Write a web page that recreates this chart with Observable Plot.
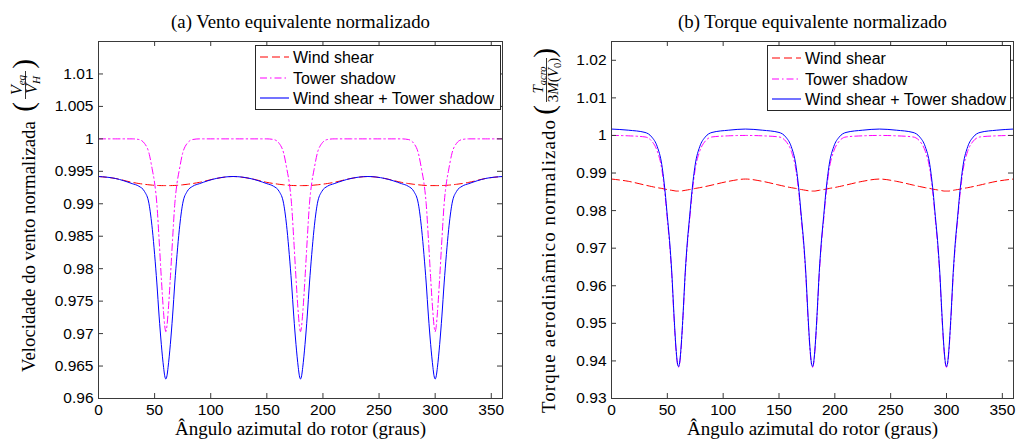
<!DOCTYPE html>
<html><head><meta charset="utf-8">
<script src="https://cdn.jsdelivr.net/npm/d3@7"></script>
<script src="https://cdn.jsdelivr.net/npm/@observablehq/plot@0.6"></script>
<style>
body{margin:0;background:#fff;}
#wrap{display:flex;width:1016px;height:443px;overflow:hidden;}
</style></head><body><div id="wrap"></div>
<script>
// ---------- data ----------
const angles = [0,15,
  30,36,41,45,48,50,52,54,56,58,59,60,61,62,64,66,68,70,72,75,79,84,90,
  105,120,135,
  150,156,161,165,168,170,172,174,176,178,179,180,181,182,184,186,188,190,192,195,199,204,210,
  225,240,255,
  270,276,281,285,288,290,292,294,296,298,299,300,301,302,304,306,308,310,312,315,319,324,330,
  345,360];

// (a) normalised equivalent wind
const windShearA = [0.99420,0.99390,
  0.99330,0.99312,0.99300,0.99292,0.99287,0.99284,0.99282,0.99281,0.99280,0.99280,0.99280,0.99280,0.99280,0.99280,0.99280,0.99281,0.99282,0.99284,0.99287,0.99292,0.99300,0.99312,0.99330,
  0.99390,0.99420,0.99390,
  0.99330,0.99312,0.99300,0.99292,0.99287,0.99284,0.99282,0.99281,0.99280,0.99280,0.99280,0.99280,0.99280,0.99280,0.99280,0.99281,0.99282,0.99284,0.99287,0.99292,0.99300,0.99312,0.99330,
  0.99390,0.99420,0.99390,
  0.99330,0.99312,0.99300,0.99292,0.99287,0.99284,0.99282,0.99281,0.99280,0.99280,0.99280,0.99280,0.99280,0.99280,0.99280,0.99281,0.99282,0.99284,0.99287,0.99292,0.99300,0.99312,0.99330,
  0.99390,0.99420];
const towerShadowA = [1.0000,1.0000,
  1.0000,0.9999,0.9993,0.9978,0.9952,0.9932,0.9900,0.9845,0.9785,0.9732,0.9712,0.9703,0.9712,0.9732,0.9785,0.9845,0.9900,0.9932,0.9952,0.9978,0.9993,0.9999,1.0000,
  1.0000,1.0000,1.0000,
  1.0000,0.9999,0.9993,0.9978,0.9952,0.9932,0.9900,0.9845,0.9785,0.9732,0.9712,0.9703,0.9712,0.9732,0.9785,0.9845,0.9900,0.9932,0.9952,0.9978,0.9993,0.9999,1.0000,
  1.0000,1.0000,1.0000,
  1.0000,0.9999,0.9993,0.9978,0.9952,0.9932,0.9900,0.9845,0.9785,0.9732,0.9712,0.9703,0.9712,0.9732,0.9785,0.9845,0.9900,0.9932,0.9952,0.9978,0.9993,0.9999,1.0000,
  1.0000,1.0000];
const combinedA = [0.9942,0.9939,
  0.9931,0.9927,0.9919,0.9900,0.9860,0.9822,0.9778,0.9727,0.9683,0.9648,0.9635,0.9630,0.9635,0.9648,0.9683,0.9727,0.9778,0.9822,0.9860,0.9900,0.9919,0.9927,0.9931,
  0.9939,0.9942,0.9939,
  0.9931,0.9927,0.9919,0.9900,0.9860,0.9822,0.9778,0.9727,0.9683,0.9648,0.9635,0.9630,0.9635,0.9648,0.9683,0.9727,0.9778,0.9822,0.9860,0.9900,0.9919,0.9927,0.9931,
  0.9939,0.9942,0.9939,
  0.9931,0.9927,0.9919,0.9900,0.9860,0.9822,0.9778,0.9727,0.9683,0.9648,0.9635,0.9630,0.9635,0.9648,0.9683,0.9727,0.9778,0.9822,0.9860,0.9900,0.9919,0.9927,0.9931,
  0.9939,0.9942];

// (b) normalised equivalent torque
const windShearB = [0.9884,0.9878,
  0.9868,0.9864,0.9861,0.9859,0.9857,0.9856,0.9855,0.9854,0.9853,0.9852,0.9852,0.9852,0.9852,0.9852,0.9853,0.9854,0.9855,0.9856,0.9857,0.9859,0.9861,0.9864,0.9868,
  0.9878,0.9884,0.9878,
  0.9868,0.9864,0.9861,0.9859,0.9857,0.9856,0.9855,0.9854,0.9853,0.9852,0.9852,0.9852,0.9852,0.9852,0.9853,0.9854,0.9855,0.9856,0.9857,0.9859,0.9861,0.9864,0.9868,
  0.9878,0.9884,0.9878,
  0.9868,0.9864,0.9861,0.9859,0.9857,0.9856,0.9855,0.9854,0.9853,0.9852,0.9852,0.9852,0.9852,0.9852,0.9853,0.9854,0.9855,0.9856,0.9857,0.9859,0.9861,0.9864,0.9868,
  0.9878,0.9884];
const towerShadowB = [1.0000,0.9999,
  0.9996,0.9985,0.9958,0.9911,0.9840,0.9776,0.9712,0.9627,0.9513,0.9420,0.9392,0.9383,0.9392,0.9420,0.9513,0.9627,0.9712,0.9776,0.9840,0.9911,0.9958,0.9985,0.9996,
  0.9999,1.0000,0.9999,
  0.9996,0.9985,0.9958,0.9911,0.9840,0.9776,0.9712,0.9627,0.9513,0.9420,0.9392,0.9383,0.9392,0.9420,0.9513,0.9627,0.9712,0.9776,0.9840,0.9911,0.9958,0.9985,0.9996,
  0.9999,1.0000,0.9999,
  0.9996,0.9985,0.9958,0.9911,0.9840,0.9776,0.9712,0.9627,0.9513,0.9420,0.9392,0.9383,0.9392,0.9420,0.9513,0.9627,0.9712,0.9776,0.9840,0.9911,0.9958,0.9985,0.9996,
  0.9999,1.0000];
const combinedB = [1.0017,1.0014,
  1.0008,0.9996,0.9970,0.9923,0.9850,0.9785,0.9720,0.9635,0.9520,0.9425,0.9395,0.9385,0.9395,0.9425,0.9520,0.9635,0.9720,0.9785,0.9850,0.9923,0.9970,0.9996,1.0008,
  1.0014,1.0017,1.0014,
  1.0008,0.9996,0.9970,0.9923,0.9850,0.9785,0.9720,0.9635,0.9520,0.9425,0.9395,0.9385,0.9395,0.9425,0.9520,0.9635,0.9720,0.9785,0.9850,0.9923,0.9970,0.9996,1.0008,
  1.0014,1.0017,1.0014,
  1.0008,0.9996,0.9970,0.9923,0.9850,0.9785,0.9720,0.9635,0.9520,0.9425,0.9395,0.9385,0.9395,0.9425,0.9520,0.9635,0.9720,0.9785,0.9850,0.9923,0.9970,0.9996,1.0008,
  1.0014,1.0017];

const seriesNames = ["Wind shear", "Tower shadow", "Wind shear + Tower shadow"];
const xTicks = [0, 50, 100, 150, 200, 250, 300, 350];
const xTickLabels = ["0", "50", "100", "150", "200", "250", "300", "350"];
const yTicksA = [0.96, 0.965, 0.97, 0.975, 0.98, 0.985, 0.99, 0.995, 1, 1.005, 1.01];
const yTickLabelsA = ["0.96", "0.965", "0.97", "0.975", "0.98", "0.985", "0.99", "0.995", "1", "1.005", "1.01"];
const yTicksB = [0.93, 0.94, 0.95, 0.96, 0.97, 0.98, 0.99, 1, 1.01, 1.02];
const yTickLabelsB = ["0.93", "0.94", "0.95", "0.96", "0.97", "0.98", "0.99", "1", "1.01", "1.02"];
const titleA = "(a) Vento equivalente normalizado";
const titleB = "(b) Torque equivalente normalizado";
const xLabel = "Ângulo azimutal do rotor (graus)";
const yLabelA = "Velocidade do vento normalizada";
const yLabelB = "Torque aerodinâmico normalizado";

// ---------- styling ----------
const colors = ["#ff0000", "#ff00ff", "#0000ff"];
const dashes = ["8,4", "7,3,1.5,3", null];
const axisColor = "#3a3a3a";
const serif = "Liberation Serif";
const sans = "Liberation Sans";
const H = 443, MT = 41, MB = 45;

function panel({series, yDomain, yTicks, yTickLabels, title, width, ml, mr}) {
  const ph = H - MT - MB, pw = width - ml - mr;
  const rows = [];
  series.forEach((arr, s) => arr.forEach((v, i) => rows.push({angle: angles[i], value: v, s})));
  const lines = [0, 1, 2].map(s => Plot.line(rows.filter(r => r.s === s), {
    x: "angle", y: "value", stroke: colors[s], strokeWidth: 1,
    strokeDasharray: dashes[s] ?? undefined, curve: "monotone-x", clip: true
  }));
  return Plot.plot({
    width, height: H, marginLeft: ml, marginRight: mr, marginTop: MT, marginBottom: MB,
    x: {domain: [0, 360]},
    y: {domain: yDomain},
    style: {fontFamily: sans, fontSize: "15.5px", color: "black", background: "white", overflow: "visible"},
    marks: [
      ...lines,
      Plot.frame({stroke: axisColor}),
      Plot.tickX(xTicks, {x: d => d, insetTop: ph - 5, stroke: axisColor}),
      Plot.tickX(xTicks, {x: d => d, insetBottom: ph - 5, stroke: axisColor}),
      Plot.tickY(yTicks, {y: d => d, insetRight: pw - 5, stroke: axisColor}),
      Plot.tickY(yTicks, {y: d => d, insetLeft: pw - 5, stroke: axisColor}),
      Plot.axisX(xTicks, {tickSize: 0, tickPadding: 5, label: null, tickFormat: d => xTickLabels[xTicks.indexOf(d)]}),
      Plot.axisY(yTicks, {tickSize: 0, tickPadding: 5, label: null, tickFormat: d => yTickLabels[yTicks.indexOf(d)]}),
      Plot.text([title], {text: d => d, frameAnchor: "top", dy: -14, lineAnchor: "bottom", fontFamily: serif, fontSize: 18.8, fill: "black"}),
      Plot.text([xLabel], {text: d => d, frameAnchor: "bottom", dy: 36, lineAnchor: "bottom", fontFamily: serif, fontSize: 19, fill: "black"})
    ]
  });
}

function legend(svg, box) {
  const g = d3.select(svg).append("g");
  g.append("rect").attr("x", box.x).attr("y", box.y).attr("width", box.w).attr("height", box.h)
    .attr("fill", "white").attr("stroke", "#262626").attr("stroke-width", 1);
  seriesNames.forEach((name, i) => {
    const y = box.rows[i];
    g.append("line").attr("x1", box.lx1).attr("x2", box.lx2).attr("y1", y).attr("y2", y)
      .attr("stroke", colors[i]).attr("stroke-width", 1.1).attr("stroke-dasharray", dashes[i]);
    g.append("text").attr("x", box.tx).attr("y", y + 5.5)
      .style("font-family", sans).style("font-size", "16px").style("text-anchor", "start")
      .attr("fill", "black").text(name);
  });
}

const wrap = document.getElementById("wrap");
const svgA = panel({series: [windShearA, towerShadowA, combinedA], yDomain: [0.96, 1.015], yTicks: yTicksA, yTickLabels: yTickLabelsA, title: titleA, width: 508, ml: 98, mr: 6});
const svgB = panel({series: [windShearB, towerShadowB, combinedB], yDomain: [0.93, 1.025], yTicks: yTicksB, yTickLabels: yTickLabelsB, title: titleB, width: 508, ml: 103, mr: 3});
wrap.appendChild(svgA);
wrap.appendChild(svgB);

legend(svgA, {x: 255.5, y: 45.5, w: 245, h: 64, rows: [57, 78, 98], lx1: 260, lx2: 289, tx: 293});
legend(svgB, {x: 259.5, y: 45.5, w: 243, h: 65, rows: [58, 79, 99], lx1: 264, lx2: 293, tx: 297});

// ---------- rotated y-axis labels with fractions ----------
function txt(g, x, y, size, anchor) {
  return g.append("text").attr("x", x).attr("y", y).attr("font-family", serif)
    .style("font-family", serif).style("font-size", size + "px").style("text-anchor", anchor).attr("fill", "black");
}
function ts(t, s, opts = {}) {
  const sp = t.append("tspan").text(s);
  if (opts.size) sp.style("font-size", opts.size + "px");
  if (opts.dy) sp.attr("dy", opts.dy);
  if (opts.italic) sp.style("font-style", "italic");
  return sp;
}

// (a)
{
  const g = d3.select(svgA).append("g").attr("transform", "translate(35,0) rotate(-90)");
  txt(g, -372, 0, 18.8, "start").text(yLabelA);
  txt(g, -107, -2, 29, "middle").text("(");
  txt(g, -64, -2, 29, "middle").text(")");
  const num = txt(g, -85, -13, 16, "middle");
  ts(num, "V", {italic: true}); ts(num, "eq", {italic: true, size: 11, dy: 3});
  g.append("line").attr("x1", -99).attr("x2", -71).attr("y1", -9.5).attr("y2", -9.5).attr("stroke", "black").attr("stroke-width", 0.8);
  const den = txt(g, -85, 2, 16, "middle");
  ts(den, "V", {italic: true}); ts(den, "H", {italic: true, size: 11, dy: 2.5});
}
// (b)
{
  const g = d3.select(svgB).append("g").attr("transform", "translate(47,0) rotate(-90)");
  txt(g, -413, 0, 18.8, "start").attr("textLength", 293).attr("lengthAdjust", "spacing").text(yLabelB);
  txt(g, -110, -1, 29, "middle").text("(");
  txt(g, -53, -1, 29, "middle").text(")");
  const num = txt(g, -80, -12, 15, "middle");
  ts(num, "T", {italic: true}); ts(num, "acro", {italic: true, size: 10.5, dy: 3});
  g.append("line").attr("x1", -102).attr("x2", -58).attr("y1", -8.5).attr("y2", -8.5).attr("stroke", "black").attr("stroke-width", 0.8);
  const den = txt(g, -80, 3, 15, "middle");
  ts(den, "3"); ts(den, "M", {italic: true}); ts(den, "("); ts(den, "V", {italic: true});
  ts(den, "0", {size: 10.5, dy: 2.5}); ts(den, ")", {dy: -2.5});
}
</script>
</body></html>
